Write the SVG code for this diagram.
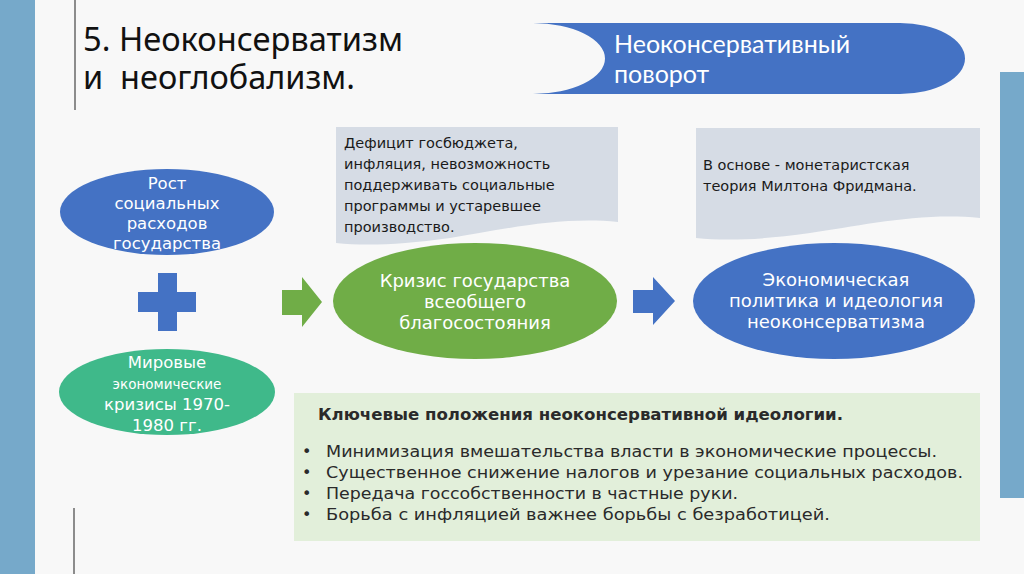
<svg xmlns="http://www.w3.org/2000/svg" width="1024" height="574" viewBox="0 0 1024 574">
<defs>
<style>
.bg{fill:#f8f8f8}
.bar{fill:#76a9ca}
.vline{stroke:#8c8c8c;stroke-width:2}
.title{font-family:"Noto Sans","DejaVu Sans",sans-serif;font-size:32px;fill:#111}
.blue{fill:#4472c4}
.green{fill:#70ad47}
.teal{fill:#3fb98a}
.call{fill:#d6dce5}
.wt{font-family:"DejaVu Sans","Noto Sans",sans-serif;fill:#fff;text-anchor:middle}
.ct{font-family:"DejaVu Sans","Noto Sans",sans-serif;font-size:14.5px;fill:#1a1a1a}
.kbox{fill:#e2efda}
.kt{font-family:"DejaVu Sans","Noto Sans",sans-serif;fill:#2a2a2a;font-size:16px}
</style>
</defs>
<rect class="bg" x="0" y="0" width="1024" height="574"/>
<rect class="bar" x="0" y="0" width="35" height="574"/>
<rect class="bar" x="1000" y="72" width="24" height="426"/>
<line class="vline" x1="75" y1="0" x2="75" y2="110"/>
<line class="vline" x1="74" y1="508" x2="74" y2="574"/>

<g id="title">
<text class="title" x="83" y="51" textLength="320" lengthAdjust="spacingAndGlyphs">5. Неоконсерватизм</text>
<text class="title" x="83" y="89" xml:space="preserve" textLength="272" lengthAdjust="spacingAndGlyphs">и  неоглобализм.</text>
</g>

<g id="banner">
<path class="blue" d="M533,23 H900 A65,35.5 0 0 1 900,94 H533 A72,35.5 0 0 0 533,23 Z"/>
<text x="614" y="53" style="font-family:'Lato','Noto Sans',sans-serif;font-size:25px;fill:#fff">Неоконсервативный</text>
<text x="614" y="83" style="font-family:'Lato','Noto Sans',sans-serif;font-size:25px;fill:#fff">поворот</text>
</g>

<g id="callout1">
<path class="call" d="M336,127 H618 V222 C560,216 500,230 450,238 C400,245 365,246 336,243 Z"/>
<text class="ct" x="344" y="148">Дефицит госбюджета,</text>
<text class="ct" x="344" y="169">инфляция, невозможность</text>
<text class="ct" x="344" y="190">поддерживать социальные</text>
<text class="ct" x="344" y="211">программы и устаревшее</text>
<text class="ct" x="344" y="232">производство.</text>
</g>

<g id="callout2">
<path class="call" d="M696,128 H980 V218 C920,212 860,226 810,233 C760,240 725,241 696,238 Z"/>
<text class="ct" x="703" y="170">В основе - монетаристская</text>
<text class="ct" x="703" y="191">теория Милтона Фридмана.</text>
</g>

<g id="node-rost">
<ellipse class="blue" cx="167" cy="212" rx="107" ry="43"/>
<text class="wt" x="167" y="189" font-size="16.5">Рост</text>
<text class="wt" x="167" y="209" font-size="16.5">социальных</text>
<text class="wt" x="167" y="229" font-size="16.5">расходов</text>
<text class="wt" x="167" y="249" font-size="16.5">государства</text>
</g>

<g id="plus">
<rect class="blue" x="138" y="292" width="58" height="20"/>
<rect class="blue" x="158" y="273" width="19" height="58"/>
</g>

<g id="node-crises">
<ellipse class="teal" cx="167" cy="392" rx="108" ry="43"/>
<text class="wt" x="167" y="368" font-size="16.5">Мировые</text>
<text class="wt" x="167" y="389" font-size="13.5">экономические</text>
<text class="wt" x="167" y="410" font-size="16.5">кризисы 1970-</text>
<text class="wt" x="167" y="431" font-size="16.5">1980 гг.</text>
</g>

<g id="node-crisis-state">
<ellipse class="green" cx="475" cy="301" rx="142" ry="58"/>
<text class="wt" x="475" y="287" font-size="18">Кризис государства</text>
<text class="wt" x="475" y="308" font-size="18">всеобщего</text>
<text class="wt" x="475" y="329" font-size="18">благосостояния</text>
</g>

<g id="node-policy">
<ellipse class="blue" cx="834" cy="301" rx="141" ry="58"/>
<text class="wt" x="836" y="286" font-size="18">Экономическая</text>
<text class="wt" x="836" y="307" font-size="18">политика и идеология</text>
<text class="wt" x="836" y="328" font-size="18">неоконсерватизма</text>
</g>

<g id="connectors">
<path class="green" d="M282,290 H302 V277 L322,302 L302,327 V315 H282 Z"/>
<path class="blue" d="M633,290 H653 V277 L675,301 L653,325 V313 H633 Z"/>
</g>

<g id="key-points">
<rect class="kbox" x="294" y="393" width="686" height="148"/>
<text class="kt" x="318" y="420" font-weight="bold" fill="#111" textLength="525" lengthAdjust="spacingAndGlyphs">Ключевые положения неоконсервативной идеологии.</text>
<text class="kt" x="302" y="457">•</text>
<text class="kt" x="326" y="457" textLength="611" lengthAdjust="spacingAndGlyphs">Минимизация вмешательства власти в экономические процессы.</text>
<text class="kt" x="302" y="478">•</text>
<text class="kt" x="326" y="478" textLength="637" lengthAdjust="spacingAndGlyphs">Существенное снижение налогов и урезание социальных расходов.</text>
<text class="kt" x="302" y="499">•</text>
<text class="kt" x="326" y="499" textLength="412" lengthAdjust="spacingAndGlyphs">Передача госсобственности в частные руки.</text>
<text class="kt" x="302" y="520">•</text>
<text class="kt" x="326" y="520" textLength="504" lengthAdjust="spacingAndGlyphs">Борьба с инфляцией важнее борьбы с безработицей.</text>
</g>
</svg>
